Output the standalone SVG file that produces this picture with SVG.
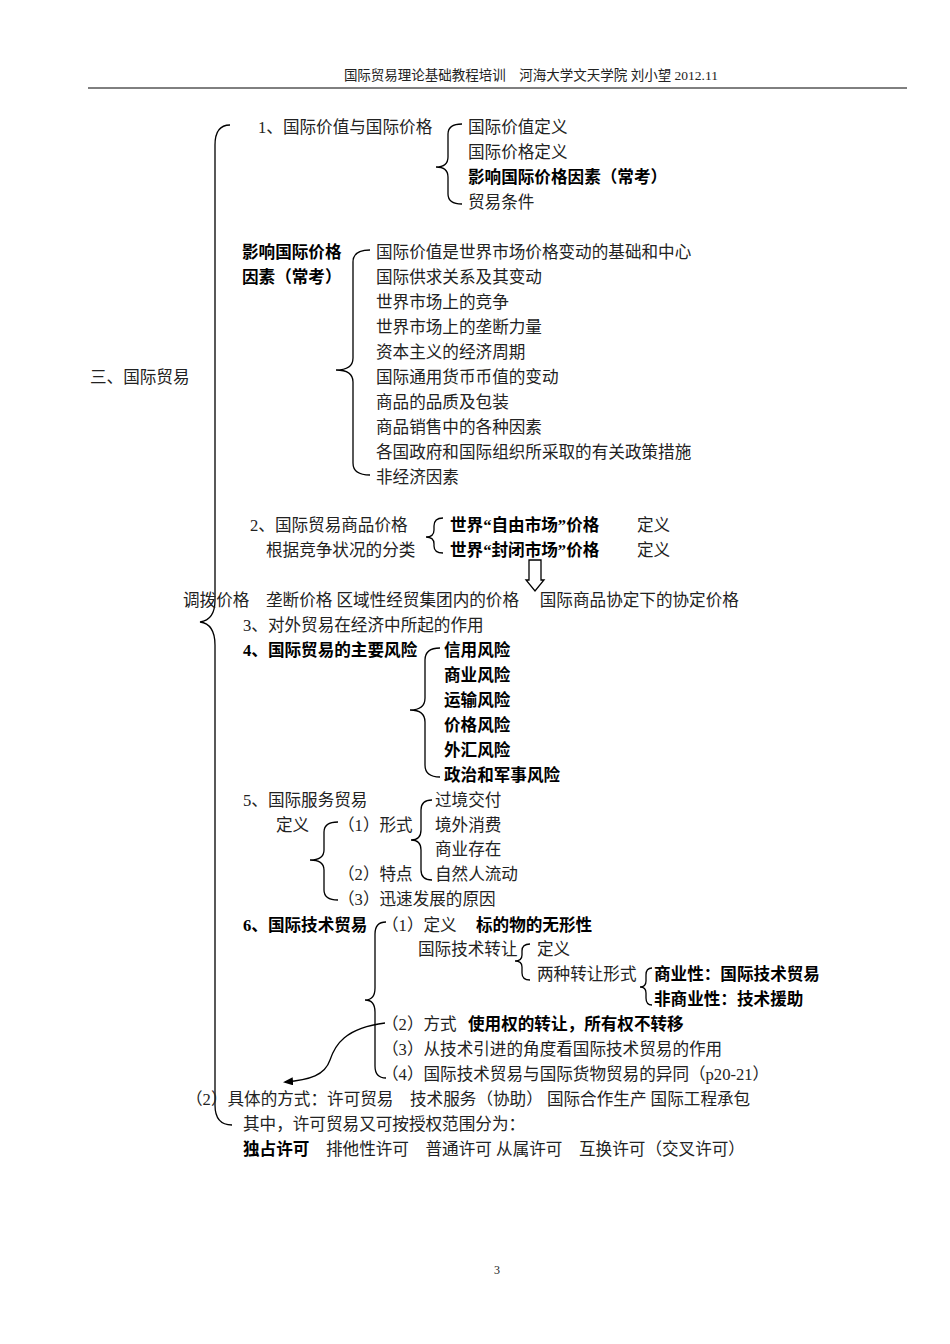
<svg xmlns="http://www.w3.org/2000/svg" width="950" height="1344" viewBox="0 0 950 1344">
<style>
text{font-family:"Liberation Serif","Noto Sans CJK SC",serif;font-size:16.6px;fill:#222}
.b{font-weight:bold;fill:#000}
.br{fill:none;stroke:#000;stroke-width:1.3}
</style>
<defs><marker id="ah" markerWidth="10" markerHeight="8" refX="8" refY="4" orient="auto" markerUnits="userSpaceOnUse"><path d="M0,0L10,4L0,8z" fill="#000"/></marker></defs>
<rect width="950" height="1344" fill="#fff"/>
<g id="header"><text x="718" y="80" text-anchor="end" style="font-size:13.5px">国际贸易理论基础教程培训　河海大学文天学院 刘小望 2012.11</text>
<line x1="88" y1="88" x2="907" y2="88" stroke="#000" stroke-width="1"/></g>
<g id="connectors">
<path class="br" d="M230,125 Q215,125 215,145 L215,600 Q215,620 200,622 Q215,624 215,645 L215,1105 Q215,1125 232,1125"/>
<path class="br" d="M462,124 Q448,124 448,134 L448,157 Q448,167 436,167 Q448,167 448,177 L448,194 Q448,204 462,204"/>
<path class="br" d="M370,250 Q353,250 353,262 L353,358 Q353,370 336,370 Q353,370 353,382 L353,463 Q353,475 370,475"/>
<path class="br" d="M443,518 Q434,518 434,526 L434,530 Q434,537 426,537 Q434,537 434,544 L434,546 Q434,553 443,553"/>
<path class="br" d="M529,560 L541,560 L541,580 L544,580 L535,591 L526,580 L529,580 Z"/>
<path class="br" d="M440,648 Q425,648 425,660 L425,698 Q425,710 410,710 Q425,710 425,722 L425,765 Q425,777 440,777"/>
<path class="br" d="M432,800 Q421,800 421,810 L421,830 Q421,840 411,840 Q421,840 421,850 L421,870 Q421,880 432,880"/>
<path class="br" d="M338,822 Q324,822 324,832 L324,850 Q324,860 310,860 Q324,860 324,870 L324,890 Q324,900 338,900"/>
<path class="br" d="M386,922 Q375,922 375,934 L375,988 Q375,1000 365,1000 Q375,1000 375,1012 L375,1066 Q375,1078 386,1078"/>
<path class="br" d="M530,944 Q522,944 522,951 L522,955 Q522,961 515,961 Q522,961 522,967 L522,973 Q522,980 530,980"/>
<path class="br" d="M652,968 Q646,968 646,975 L646,981 Q646,987 640,987 Q646,987 646,993 L646,998 Q646,1005 652,1005"/>
<path class="br" d="M385,1023 C345,1028 335,1045 330,1060 C325,1075 310,1080 285,1082" marker-end="url(#ah)" stroke-width="2"/>
</g>
<g id="n-root"><text x="90" y="383">三、国际贸易</text></g>
<g id="n1"><text x="258" y="133">1、国际价值与国际价格</text>
<text x="468" y="133">国际价值定义</text><text x="468" y="158">国际价格定义</text><text x="468" y="183" class="b">影响国际价格因素（常考）</text><text x="468" y="208">贸易条件</text></g>
<g id="n-factors"><text x="242" y="258" class="b">影响国际价格</text><text x="242" y="283" class="b">因素（常考）</text>
<text x="376" y="258">国际价值是世界市场价格变动的基础和中心</text>
<text x="376" y="283">国际供求关系及其变动</text>
<text x="376" y="308">世界市场上的竞争</text>
<text x="376" y="333">世界市场上的垄断力量</text>
<text x="376" y="358">资本主义的经济周期</text>
<text x="376" y="383">国际通用货币币值的变动</text>
<text x="376" y="408">商品的品质及包装</text>
<text x="376" y="433">商品销售中的各种因素</text>
<text x="376" y="458">各国政府和国际组织所采取的有关政策措施</text>
<text x="376" y="483">非经济因素</text></g>
<g id="n2"><text x="250" y="531">2、国际贸易商品价格</text><text x="266" y="556">根据竞争状况的分类</text>
<text x="450" y="531" class="b">世界“自由市场”价格</text><text x="637" y="531">定义</text>
<text x="450" y="556" class="b">世界“封闭市场”价格</text><text x="637" y="556">定义</text>
<text x="183" y="606">调拨价格　垄断价格 区域性经贸集团内的价格　 国际商品协定下的协定价格</text></g>
<g id="n3"><text x="243" y="631">3、对外贸易在经济中所起的作用</text></g>
<g id="n4"><text x="243" y="656" class="b">4、国际贸易的主要风险</text>
<text x="444" y="656" class="b">信用风险</text><text x="444" y="681" class="b">商业风险</text><text x="444" y="706" class="b">运输风险</text><text x="444" y="731" class="b">价格风险</text><text x="444" y="756" class="b">外汇风险</text><text x="444" y="781" class="b">政治和军事风险</text></g>
<g id="n5"><text x="243" y="806">5、国际服务贸易</text><text x="276" y="831">定义</text>
<text x="338" y="831">（1）形式</text><text x="338" y="880">（2）特点</text><text x="338" y="905">（3）迅速发展的原因</text>
<text x="435" y="806">过境交付</text><text x="435" y="831">境外消费</text><text x="435" y="855">商业存在</text><text x="435" y="880">自然人流动</text></g>
<g id="n6"><text x="243" y="931" class="b">6、国际技术贸易</text>
<text x="382" y="931">（1）定义</text><text x="476" y="931" class="b">标的物的无形性</text>
<text x="418" y="955">国际技术转让</text><text x="537" y="955">定义</text><text x="537" y="980">两种转让形式</text>
<text x="654" y="980" class="b">商业性：国际技术贸易</text><text x="654" y="1005" class="b">非商业性：技术援助</text>
<text x="382" y="1030">（2）方式</text><text x="468" y="1030" class="b">使用权的转让，所有权不转移</text>
<text x="382" y="1055">（3）从技术引进的角度看国际技术贸易的作用</text>
<text x="382" y="1080">（4）国际技术贸易与国际货物贸易的异同（p20-21）</text></g>
<g id="n7"><text x="186" y="1105">（2）具体的方式：许可贸易　技术服务（协助） 国际合作生产 国际工程承包</text>
<text x="243" y="1130">其中，许可贸易又可按授权范围分为：</text>
<text x="243" y="1155"><tspan class="b">独占许可</tspan>　排他性许可　普通许可 从属许可　互换许可（交叉许可）</text></g>
<g id="footer"><text x="497" y="1274" text-anchor="middle" style="font-size:12px">3</text></g>
</svg>
